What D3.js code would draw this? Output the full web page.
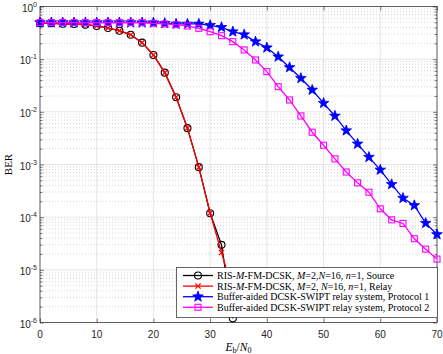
<!DOCTYPE html>
<html><head><meta charset="utf-8">
<script src="https://cdn.jsdelivr.net/npm/d3@7"></script>
<style>body{margin:0;background:#fff}svg{display:block}</style>
</head><body>
<svg id="c" width="443" height="354"></svg>
<script>
// ---- data ----
const snrRIS = [0,2,4,6,8,10,12,14,16,18,20,22,24,26,28,30,32,34];
const berSource = [0.48,0.48,0.47,0.465,0.452,0.427,0.39,0.347,0.29,0.206,0.12,0.0555,0.0189,0.0049,8.9e-4,1.19e-4,2.98e-5,1.2e-6];
const berRelay  = [0.48,0.48,0.47,0.465,0.452,0.427,0.39,0.347,0.29,0.206,0.12,0.0555,0.0189,0.0049,8.9e-4,1.19e-4,2.13e-5,4e-6];
const snrBuf = [0,2,4,6,8,10,12,14,16,18,20,22,24,26,28,30,32,34,36,38,40,42,44,46,48,50,52,54,56,58,60,62,64,66,68,70];
const berProt1 = [0.495,0.495,0.495,0.495,0.495,0.495,0.495,0.495,0.495,0.493,0.493,0.48,0.466,0.466,0.466,0.44,0.403,0.333,0.292,0.215,0.165,0.111,0.0697,0.0434,0.026,0.0146,8.35e-3,4.4e-3,2.46e-3,1.38e-3,7.9e-4,4.2e-4,2.3e-4,1.67e-4,7.7e-5,4.7e-5];
const berProt2 = [0.495,0.495,0.495,0.495,0.495,0.495,0.495,0.495,0.495,0.493,0.48,0.466,0.452,0.427,0.386,0.332,0.279,0.215,0.15,0.0966,0.058,0.030,0.0168,8.35e-3,4.1e-3,2.32e-3,1.28e-3,7.2e-4,4.48e-4,2.98e-4,1.44e-4,8.9e-5,7.6e-5,3.9e-5,2.47e-5,1.6e-5];
const xTicks = [0,10,20,30,40,50,60,70];
const yTickExps = [0,-1,-2,-3,-4,-5,-6];
const legendLabels = [
  [["RIS-",0],["M",1],["-FM-DCSK, ",0],["M",1],["=2,",0],["N",1],["=16, ",0],["n",1],["=1, Source",0]],
  [["RIS-",0],["M",1],["-FM-DCSK, ",0],["M",1],["=2, ",0],["N",1],["=16, ",0],["n",1],["=1, Relay",0]],
  [["Buffer-aided DCSK-SWIPT relay system, Protocol 1",0]],
  [["Buffer-aided DCSK-SWIPT relay system, Protocol 2",0]]
];

// ---- layout ----
const L = 40, R = 437, T = 6.5, B = 322.5;
const svg = d3.select("#c");
const x = d3.scaleLinear().domain([0,70]).range([L,R]);
const y = d3.scaleLog().domain([1e-6,1]).range([B,T]);
const axisCol = "#262626";

// grid: minor y (dotted)
const minorVals = [];
for (let e=-6;e<0;e++) for (let m=2;m<=9;m++) minorVals.push(m*Math.pow(10,e));
svg.append("g").selectAll("line").data(minorVals).join("line")
  .attr("x1",L).attr("x2",R).attr("y1",d=>y(d)).attr("y2",d=>y(d))
  .attr("stroke","#b8b8b8").attr("stroke-width",0.6).attr("stroke-dasharray","1,2");
// major grid
svg.append("g").selectAll("line").data(yTickExps).join("line")
  .attr("x1",L).attr("x2",R).attr("y1",d=>y(Math.pow(10,d))).attr("y2",d=>y(Math.pow(10,d)))
  .attr("stroke","#e0e0e0").attr("stroke-width",0.8);
svg.append("g").selectAll("line").data(xTicks).join("line")
  .attr("y1",T).attr("y2",B).attr("x1",d=>x(d)).attr("x2",d=>x(d))
  .attr("stroke","#e0e0e0").attr("stroke-width",0.8);

// axes via d3 axis (ticks inward), box
const gx = svg.append("g").attr("transform",`translate(0,${B})`)
  .call(d3.axisBottom(x).tickValues(xTicks).tickSize(-4).tickFormat(""));
const gxt = svg.append("g").attr("transform",`translate(0,${T})`)
  .call(d3.axisTop(x).tickValues(xTicks).tickSize(-4).tickFormat(""));
const gy = svg.append("g").attr("transform",`translate(${L},0)`)
  .call(d3.axisLeft(y).tickValues(yTickExps.map(e=>Math.pow(10,e))).tickSize(-4).tickFormat(""));
const gyr = svg.append("g").attr("transform",`translate(${R},0)`)
  .call(d3.axisRight(y).tickValues(yTickExps.map(e=>Math.pow(10,e))).tickSize(-4).tickFormat(""));
const gym = svg.append("g").attr("transform",`translate(${L},0)`)
  .call(d3.axisLeft(y).tickValues(minorVals).tickSize(-2.5).tickFormat(""));
const gymr = svg.append("g").attr("transform",`translate(${R},0)`)
  .call(d3.axisRight(y).tickValues(minorVals).tickSize(-2.5).tickFormat(""));
[gx,gxt,gy,gyr,gym,gymr].forEach(g=>{
  g.select(".domain").remove();
  g.selectAll("line").attr("stroke",axisCol).attr("stroke-width",0.6);
});
svg.append("rect").attr("x",L).attr("y",T).attr("width",R-L).attr("height",B-T)
  .attr("fill","none").attr("stroke",axisCol).attr("stroke-width",0.7);

// tick labels
svg.append("g").selectAll("text").data(xTicks).join("text")
  .attr("x",d=>x(d)).attr("y",337.5).attr("text-anchor","middle")
  .attr("font-family","Liberation Sans, Arial, sans-serif").attr("font-size",10).attr("fill",axisCol)
  .text(d=>d);
const yl = svg.append("g").selectAll("text").data(yTickExps).join("text")
  .attr("x",37).attr("y",d=>y(Math.pow(10,d))+5)
  .attr("text-anchor","end")
  .attr("font-family","Liberation Sans, Arial, sans-serif").attr("font-size",10).attr("fill",axisCol);
yl.append("tspan").text("10");
yl.append("tspan").attr("dy",-5).attr("font-size",7).text(d=>d===0?"0":"-"+Math.abs(d));

// axis labels
const xlab = svg.append("text").attr("x",(L+R)/2).attr("y",351).attr("text-anchor","middle")
  .attr("font-family","Liberation Serif, Times New Roman, serif").attr("font-size",11.5).attr("fill","#000");
xlab.append("tspan").attr("font-style","italic").text("E");
xlab.append("tspan").attr("font-size",8).attr("dy",2).text("b");
xlab.append("tspan").attr("dy",-2).text("/");
xlab.append("tspan").attr("font-style","italic").text("N");
xlab.append("tspan").attr("font-size",8).attr("dy",2).text("0");
svg.append("text").attr("transform",`translate(12,${(T+B)/2}) rotate(-90)`).attr("text-anchor","middle")
  .attr("font-family","Liberation Serif, Times New Roman, serif").attr("font-size",11).attr("fill","#000").text("BER");

// ---- series ----
const clip = svg.append("clipPath").attr("id","pa").append("rect").attr("x",L).attr("y",T).attr("width",R-L).attr("height",B-T);
function starPath(ro, ri){
  let p=[];
  for(let i=0;i<10;i++){const r=i%2?ri:ro;const a=-Math.PI/2+i*Math.PI/5;p.push([r*Math.cos(a),r*Math.sin(a)]);}
  return "M"+p.map(q=>q[0].toFixed(2)+","+q[1].toFixed(2)).join("L")+"Z";
}
const markers = {
  circle: g=>g.append("circle").attr("r",3.5).attr("fill","none").attr("stroke","#000").attr("stroke-width",1.1),
  cross: g=>g.append("path").attr("d","M-2.6,-2.6L2.6,2.6M-2.6,2.6L2.6,-2.6").attr("fill","none").attr("stroke","#ff0000").attr("stroke-width",1.2),
  star: g=>g.append("path").attr("d",starPath(5.6,2.3)).attr("fill","#0000ff").attr("stroke","#0000ff").attr("stroke-width",0.8),
  square: g=>g.append("rect").attr("x",-3).attr("y",-3).attr("width",6).attr("height",6).attr("fill","none").attr("stroke","#ff00ff").attr("stroke-width",1.1)
};
const series = [
  {xs:snrRIS, ys:berSource, color:"#000000", m:"circle"},
  {xs:snrRIS, ys:berRelay, color:"#ff0000", m:"cross"},
  {xs:snrBuf, ys:berProt1, color:"#0000ff", m:"star"},
  {xs:snrBuf, ys:berProt2, color:"#ff00ff", m:"square"}
];
const line = d3.line().x(d=>x(d[0])).y(d=>y(d[1]));
series.forEach(s=>{
  const pts = s.xs.map((v,i)=>[v,s.ys[i]]);
  svg.append("path").attr("d",line(pts)).attr("clip-path","url(#pa)")
    .attr("fill","none").attr("stroke",s.color).attr("stroke-width",1.3);
  const inside = pts.filter(p=>p[1]>=1e-6 && p[1]<=1);
  svg.append("g").selectAll("g").data(inside).join("g")
    .attr("transform",p=>`translate(${x(p[0])},${y(p[1])})`)
    .each(function(){ markers[s.m](d3.select(this)); });
});

// ---- legend ----
const lg = svg.append("g");
lg.append("rect").attr("x",176.5).attr("y",267.5).attr("width",261).attr("height",50)
  .attr("fill","#fff").attr("stroke",axisCol).attr("stroke-width",0.7);
series.forEach((s,i)=>{
  const yy = 275.5 + i*10.6;
  lg.append("line").attr("x1",183).attr("x2",213).attr("y1",yy).attr("y2",yy).attr("stroke",s.color).attr("stroke-width",1.3);
  markers[s.m](lg.append("g").attr("transform",`translate(198,${yy})`));
  const t = lg.append("text").attr("x",217).attr("y",yy+3.4)
    .attr("font-family","Liberation Serif, Times New Roman, serif").attr("font-size",10).attr("fill","#000");
  legendLabels[i].forEach(([str,it])=>{ const sp=t.append("tspan").text(str); if(it) sp.attr("font-style","italic"); });
});
</script>
</body></html>
